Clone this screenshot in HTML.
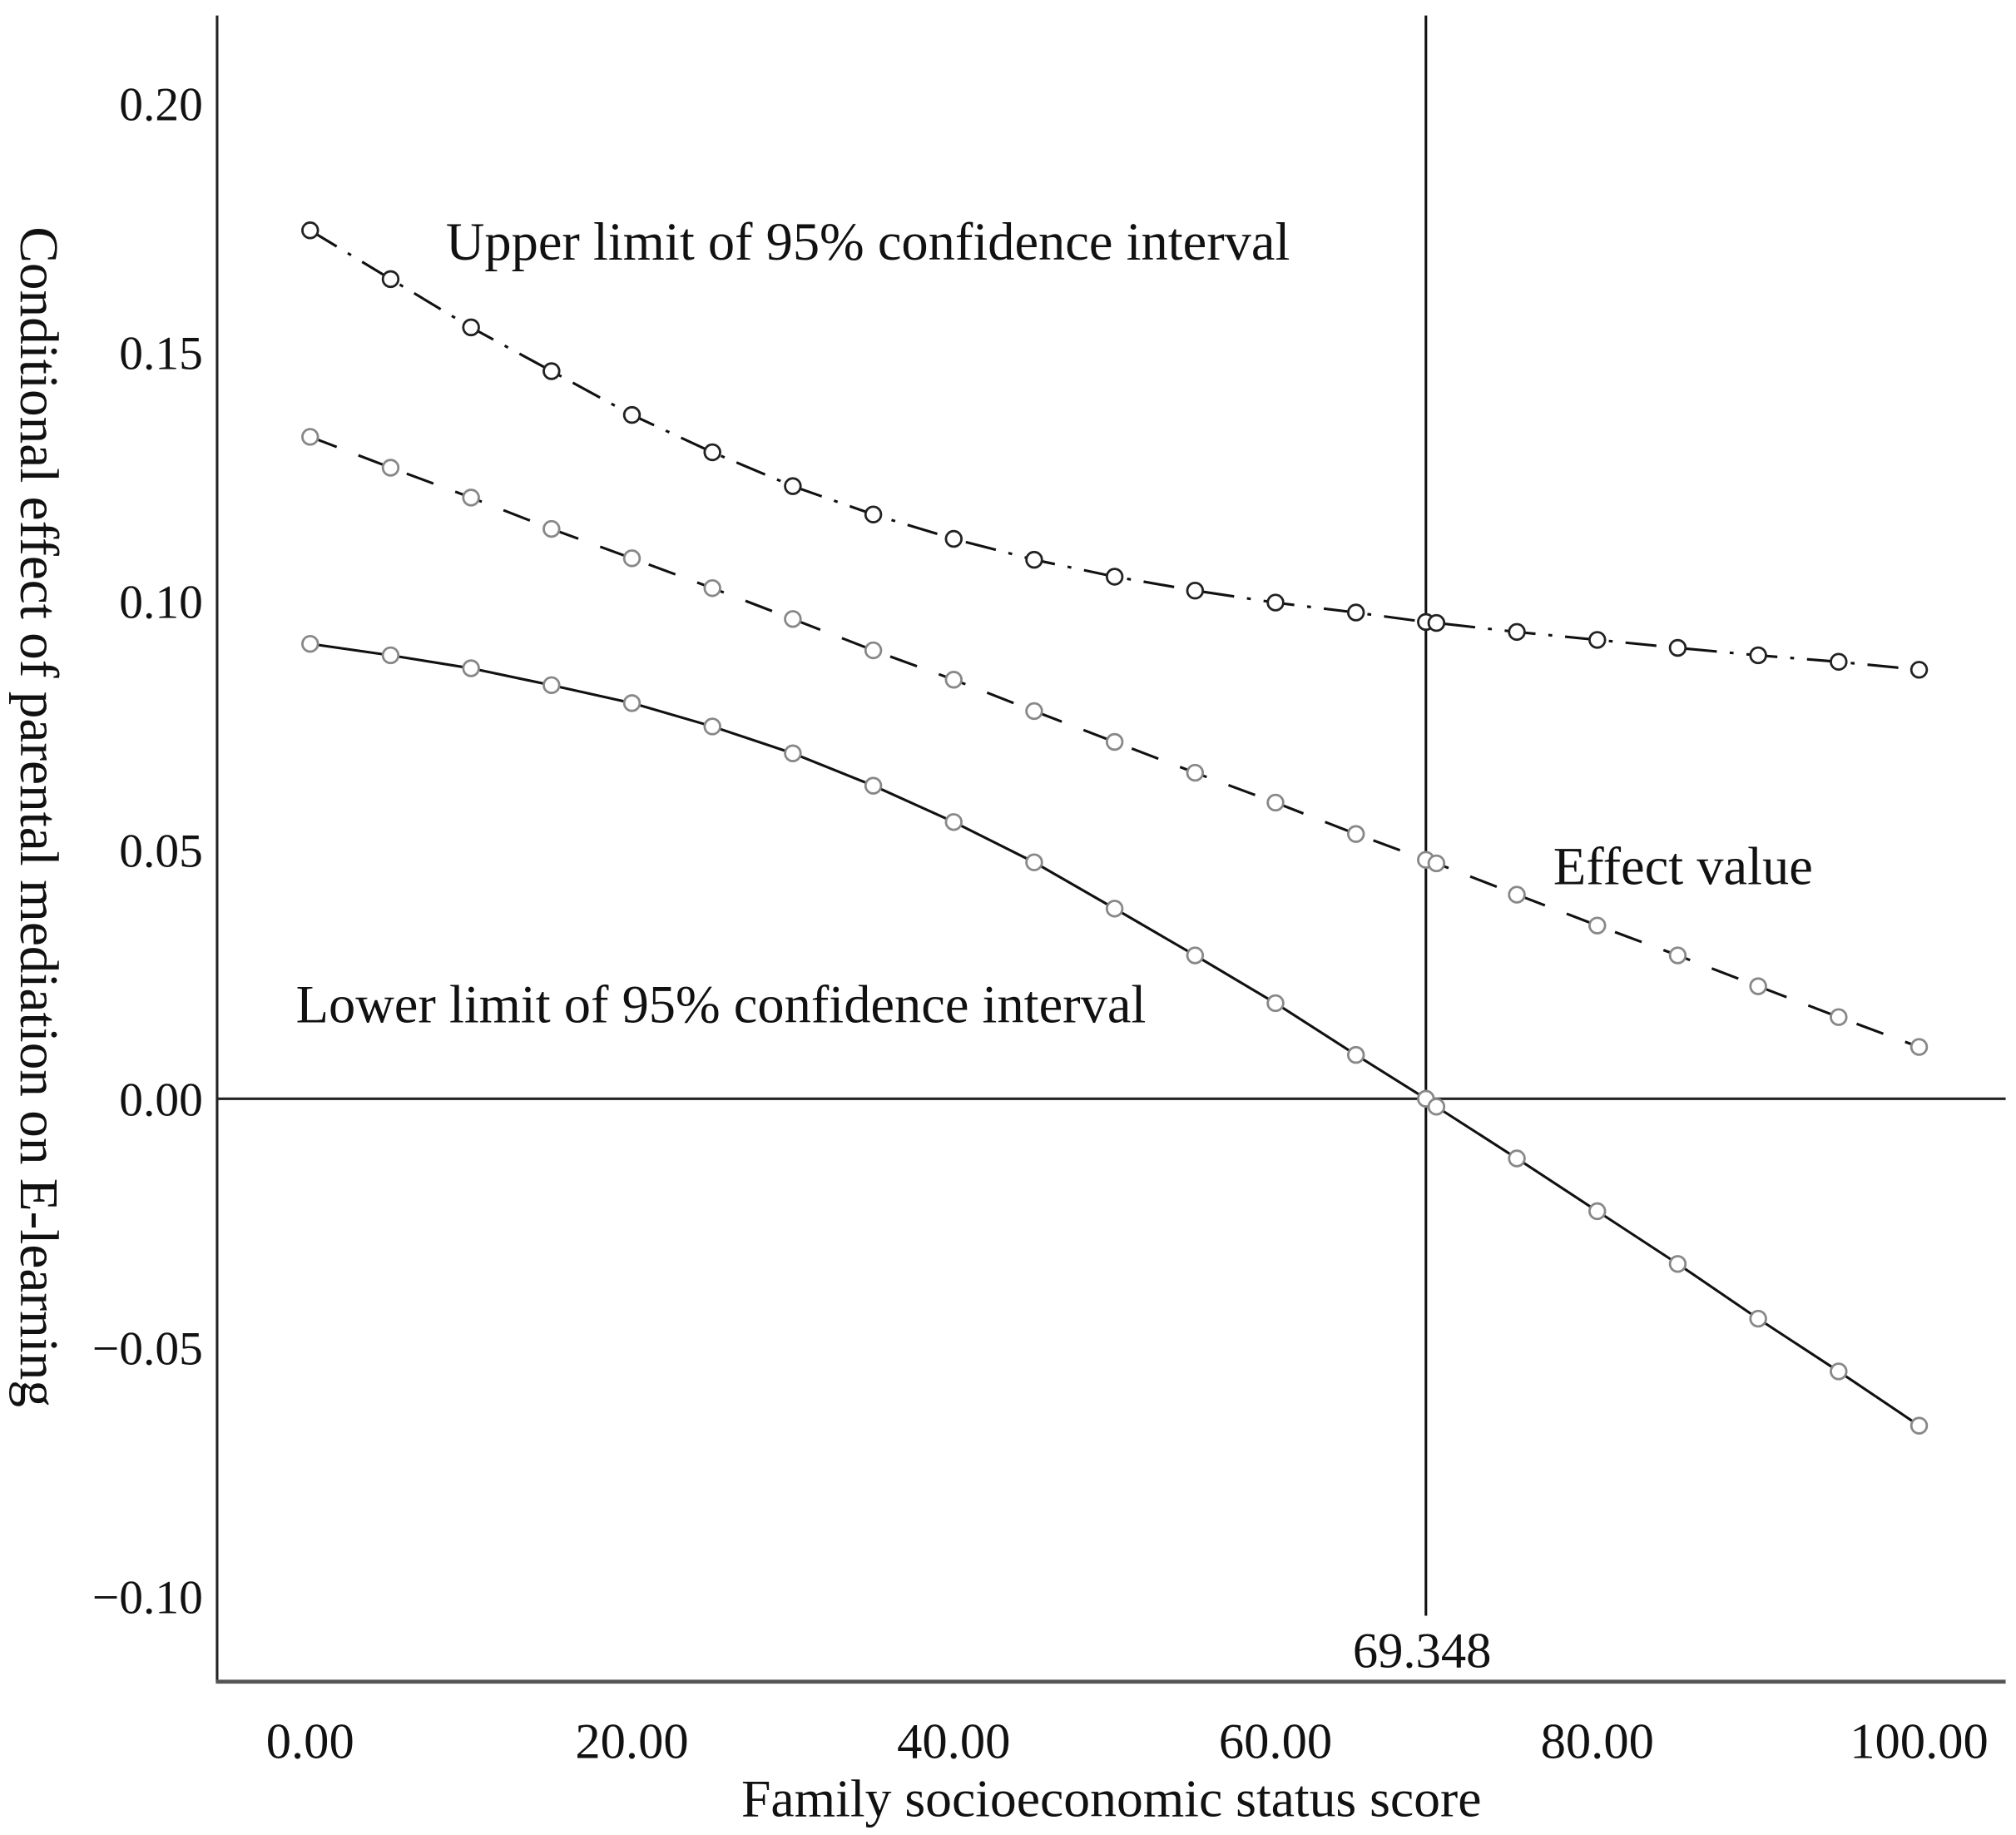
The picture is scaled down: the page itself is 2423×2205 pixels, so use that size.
<!DOCTYPE html>
<html><head><meta charset="utf-8"><style>html,body{margin:0;padding:0;background:#fff}svg{display:block}text{font-family:"Liberation Serif",serif;fill:#111}</style></head>
<body>
<svg id="chart" width="2423" height="2205" viewBox="0 0 1560 1419.6" xmlns="http://www.w3.org/2000/svg">
<g id="axes"></g>
<g id="series"></g>
</svg>
<script>
const xCats = [0,5,10,15,20,25,30,35,40,45,50,55,60,65,69.348,70,75,80,85,90,95,100];
const upperVals = [0.1745,0.1647,0.155,0.1462,0.1374,0.1299,0.1231,0.1174,0.1125,0.1083,0.1049,0.1021,0.0997,0.0977,0.0958,0.0956,0.0938,0.0922,0.0906,0.0891,0.0878,0.0862];
const effectVals = [0.133,0.1268,0.1208,0.1145,0.1086,0.1026,0.0964,0.0901,0.0842,0.0779,0.0717,0.0655,0.0595,0.0532,0.048,0.0473,0.041,0.0348,0.0288,0.0226,0.0164,0.0104];
const lowerVals = [0.0914,0.0891,0.0865,0.0831,0.0795,0.0748,0.0694,0.0629,0.0556,0.0475,0.0382,0.0288,0.0192,0.0088,0,-0.0016,-0.012,-0.0226,-0.0332,-0.0442,-0.0548,-0.0657];
const xTicks = [0,20,40,60,80,100];
const xTickLabels = ["0.00","20.00","40.00","60.00","80.00","100.00"];
const yTicks = [0.2,0.15,0.1,0.05,0,-0.05,-0.1];
const yTickLabels = ["0.20","0.15","0.10","0.05","0.00","\u22120.05","\u22120.10"];
const crossX = 69.348;

const NS="http://www.w3.org/2000/svg";
function X(v){return 240+v*12.45;}
function Y(v){return 850-v*3850;}
function mk(tag,attrs,parent,txt){const e=document.createElementNS(NS,tag);for(const k in attrs)e.setAttribute(k,attrs[k]);if(txt!==undefined)e.textContent=txt;parent.appendChild(e);return e;}
const ax=document.getElementById('axes'), se=document.getElementById('series');

let e;
e=mk('line',{x1:168,y1:12,x2:168,y2:1301,stroke:'#222','stroke-width':2},ax);


e=mk('line',{x1:167,y1:1301,x2:1552,y2:1301,stroke:'#555','stroke-width':3},ax);


e=mk('line',{x1:168,y1:Y(0),x2:1552,y2:Y(0),stroke:'#222','stroke-width':2},ax);


e=mk('line',{x1:X(crossX),y1:12,x2:X(crossX),y2:1250,stroke:'#111','stroke-width':2},ax);


e=mk('text',{x:X(crossX)-3,y:1290,'font-size':39,'text-anchor':'middle'},ax,String(crossX.toFixed(3)));



xTicks.forEach((t,i)=>{
  const el=mk('text',{x:X(t),y:1360,'font-size':39,'text-anchor':'middle'},ax,xTickLabels[i]);
  
  
});
yTicks.forEach((t,i)=>{
  const el=mk('text',{x:157,y:Y(t)+13,'font-size':37,'text-anchor':'end'},ax,yTickLabels[i]);
  
  
});
e=mk('text',{x:860,y:1405,'font-size':41,'text-anchor':'middle'},ax,'Family socioeconomic status score');


e=mk('text',{x:0,y:0,'font-size':42,'text-anchor':'middle',transform:'translate(16,632) rotate(90)'},ax,'Conditional effect of parental mediation on E-learning');



function series(vals,name,dash,mcolor){
  const pts=xCats.map((x,i)=>X(x).toFixed(1)+','+Y(vals[i]).toFixed(1)).join(' ');
  const l=mk('polyline',{points:pts,fill:'none',stroke:'#111','stroke-width':2,'stroke-dasharray':dash},se);
  
  
  xCats.forEach((x,i)=>{
    const c=mk('circle',{cx:X(x),cy:Y(vals[i]),r:6,fill:'#fff',stroke:mcolor,'stroke-width':1.8},se);
    
    
  });
}
series(upperVals,'upper-limit','24 10 3 10','#222');
series(effectVals,'effect-value','22 18','#888');
series(lowerVals,'lower-limit','none','#888');

e=mk('text',{x:345,y:201,'font-size':41.5},ax,'Upper limit of 95% confidence interval');


e=mk('text',{x:1202,y:684,'font-size':41.5},ax,'Effect value');


e=mk('text',{x:229,y:791,'font-size':41.5},ax,'Lower limit of 95% confidence interval');


</script>
</body></html>
